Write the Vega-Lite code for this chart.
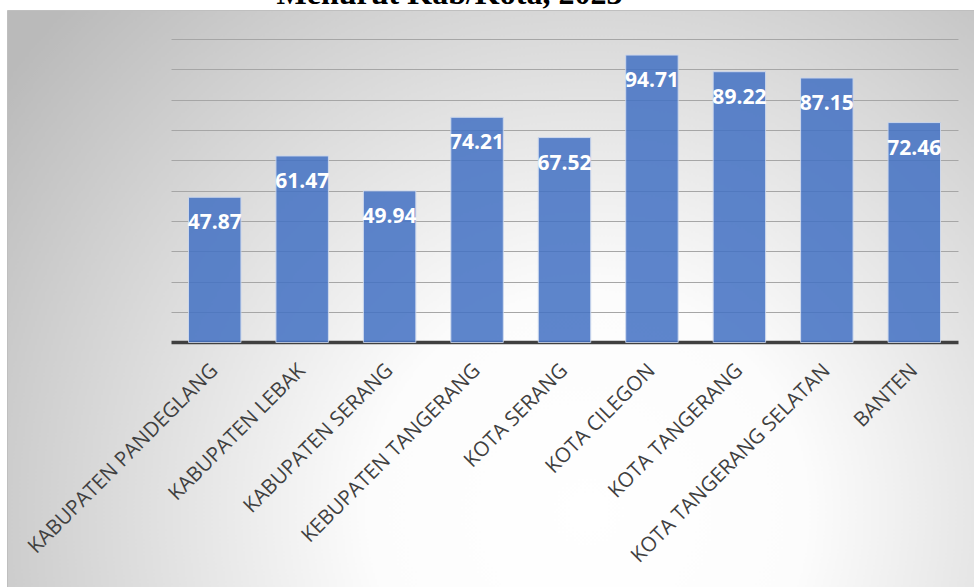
{
  "$schema": "https://vega.github.io/schema/vega-lite/v6.json",
  "width": 967,
  "height": 577,
  "autosize": {"type": "none"},
  "padding": {"left": 7, "top": 10, "right": 0, "bottom": 0},
  "background": "#ffffff",
  "title": {
    "text": "Menurut Kab/Kota, 2023",
    "font": "Liberation Serif",
    "fontSize": 32,
    "fontWeight": "bold",
    "color": "#000000",
    "anchor": "middle",
    "dx": -41,
    "dy": 26,
    "offset": 0,
    "baseline": "alphabetic"
  },
  "config": {
    "view": {
      "stroke": "#bfbfbf",
      "strokeWidth": 1,
      "fill": {
        "gradient": "radial",
        "x1": 0.6, "y1": 0.72, "r1": 0,
        "x2": 0.6, "y2": 0.72, "r2": 0.75,
        "stops": [
          {"offset": 0, "color": "#ffffff"},
          {"offset": 0.3, "color": "#fcfcfc"},
          {"offset": 1, "color": "#bababa"}
        ]
      }
    }
  },
  "data": {
    "values": [
      {"wilayah": "KABUPATEN PANDEGLANG", "nilai": 47.87},
      {"wilayah": "KABUPATEN LEBAK", "nilai": 61.47},
      {"wilayah": "KABUPATEN SERANG", "nilai": 49.94},
      {"wilayah": "KEBUPATEN TANGERANG", "nilai": 74.21},
      {"wilayah": "KOTA SERANG", "nilai": 67.52},
      {"wilayah": "KOTA CILEGON", "nilai": 94.71},
      {"wilayah": "KOTA TANGERANG", "nilai": 89.22},
      {"wilayah": "KOTA TANGERANG SELATAN", "nilai": 87.15},
      {"wilayah": "BANTEN", "nilai": 72.46}
    ]
  },
  "encoding": {
    "x": {
      "field": "wilayah",
      "type": "nominal",
      "sort": null,
      "scale": {"range": [164, 951], "paddingInner": 0.4, "paddingOuter": 0.2},
      "axis": {
        "title": null,
        "orient": "bottom",
        "offset": -245,
        "domain": true,
        "domainColor": "#404040",
        "domainWidth": 3.5,
        "ticks": false,
        "grid": false,
        "labelAngle": -45,
        "labelFont": "Open Sans",
        "labelFontSize": 20.5,
        "labelColor": "#404040",
        "labelPadding": 18,
        "labelOffset": -7,
        "labelLimit": 500
      }
    },
    "y": {
      "field": "nilai",
      "type": "quantitative",
      "scale": {"domain": [0, 100], "range": [332.5, 29], "nice": false},
      "axis": {
        "title": null,
        "labels": false,
        "ticks": false,
        "domain": false,
        "grid": true,
        "values": [10, 20, 30, 40, 50, 60, 70, 80, 90, 100],
        "gridColor": "#a6a6a6",
        "gridWidth": 1
      }
    }
  },
  "layer": [
    {
      "mark": {"type": "bar", "color": "#4472c4", "opacity": 0.86, "stroke": "#c9d6ee", "strokeWidth": 1}
    },
    {
      "mark": {
        "type": "text",
        "baseline": "middle",
        "dy": 26,
        "font": "Open Sans",
        "fontSize": 21,
        "fontWeight": "bold",
        "color": "#ffffff"
      },
      "encoding": {"text": {"field": "nilai", "type": "quantitative", "format": ".2f"}}
    }
  ]
}
